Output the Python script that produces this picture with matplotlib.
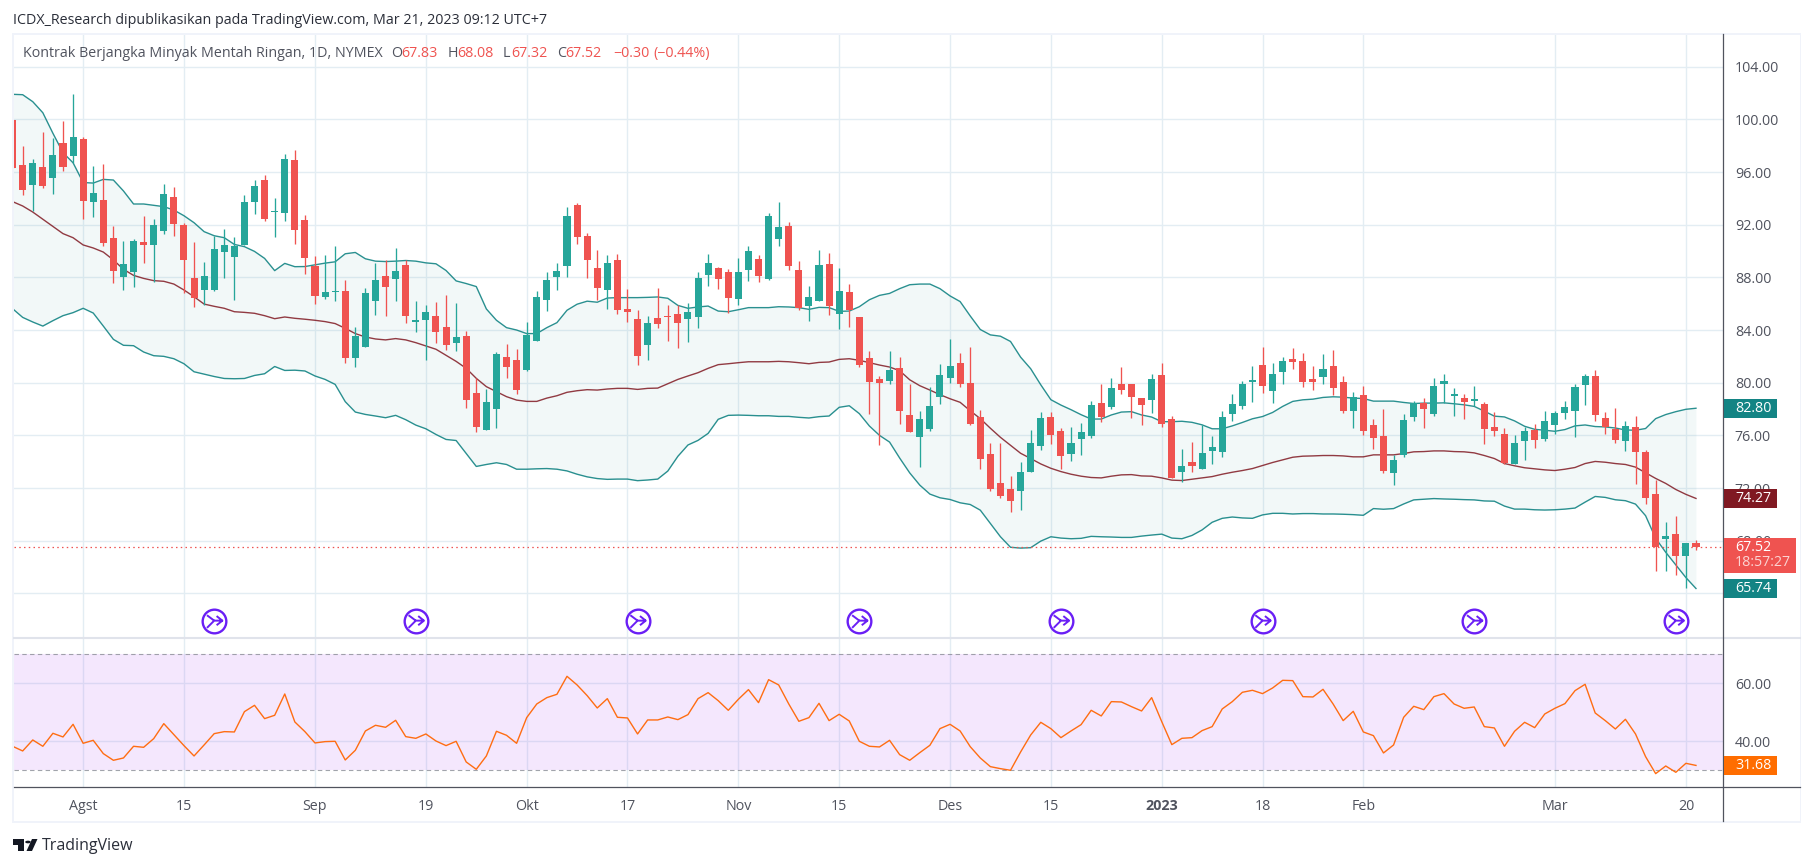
import matplotlib
matplotlib.use('Agg')
import matplotlib.pyplot as plt
from matplotlib.lines import Line2D
from matplotlib.patches import Rectangle, Polygon, Circle
from matplotlib.path import Path

plt.rcParams['font.family'] = ['Open Sans', 'DejaVu Sans']

# daily candles
opens = [99.95, 96.53, 95.01, 96.38, 95.54, 98.2, 97.22, 98.5, 93.72, 93.87,
         90.99, 88.03, 88.4, 90.68, 90.46, 91.52, 94.1, 91.97, 87.95, 87.04,
         87.04, 89.92, 89.54, 90.46, 93.72, 95.39, 92.95, 92.89, 96.91, 92.37,
         88.88, 86.52, 86.85, 86.97, 81.88, 82.71, 86.21, 88.11, 87.89, 88.95,
         84.62, 84.77, 85.07, 84.24, 83.02, 83.55, 79.21, 76.4, 78.0, 81.95,
         81.72, 80.96, 83.17, 86.29, 88.04, 88.88, 93.52, 91.16, 88.72, 87.01,
         89.29, 85.57, 84.81, 82.84, 84.89, 85.04, 85.19, 84.81, 84.96, 88.15,
         88.68, 88.38, 86.33, 88.53, 89.37, 87.85, 90.89, 91.87, 88.53, 85.8,
         86.18, 88.99, 85.19, 86.86, 84.96, 81.85, 80.25, 80.1, 81.09, 77.57,
         75.9, 76.51, 78.93, 80.37, 81.51, 80.0, 77.42, 74.62, 72.42, 71.89,
         71.74, 73.25, 75.22, 77.42, 76.36, 74.62, 75.75, 75.98, 78.48, 78.18,
         79.92, 79.92, 78.86, 78.71, 80.6, 77.27, 73.25, 74.01, 73.45, 74.82,
         74.75, 77.64, 78.25, 80.07, 81.36, 79.39, 80.83, 81.82, 81.67, 80.3,
         80.45, 81.29, 80.07, 77.87, 79.08, 76.8, 75.96, 73.15, 74.52, 77.41,
         78.47, 77.64, 79.92, 79.0, 78.85, 78.63, 78.4, 76.65, 76.09, 73.81,
         75.56, 76.39, 75.71, 76.77, 77.68, 77.83, 79.8, 80.48, 77.3, 76.46,
         75.56, 76.62, 74.72, 71.54, 68.13, 68.51, 66.84, 67.83]
closes = [96.3, 94.63, 96.68, 94.94, 97.29, 96.38, 98.66, 93.8, 94.4, 90.61,
          88.48, 89.01, 90.76, 90.46, 91.97, 94.33, 92.05, 89.32, 86.43, 88.1,
          90.15, 90.46, 90.38, 93.72, 94.94, 92.43, 93.0, 96.99, 91.59, 89.48,
          86.59, 86.9, 86.9, 81.88, 83.55, 86.82, 87.81, 87.28, 88.5, 85.07,
          84.77, 85.38, 83.85, 82.87, 83.47, 78.68, 76.63, 78.53, 82.18, 81.19,
          79.44, 83.63, 86.52, 87.81, 88.5, 92.68, 91.08, 89.33, 87.2, 89.06,
          85.49, 85.34, 82.0, 84.5, 84.43, 84.96, 84.51, 85.34, 87.92, 89.06,
          87.85, 86.41, 88.38, 89.97, 88.08, 92.63, 91.8, 88.84, 85.65, 86.48,
          88.91, 85.8, 86.94, 85.49, 81.32, 80.03, 79.95, 80.94, 77.87, 76.28,
          77.27, 78.25, 80.6, 81.28, 79.92, 76.89, 74.24, 71.96, 71.43, 70.98,
          73.25, 75.45, 77.34, 76.05, 74.46, 75.45, 76.28, 78.33, 77.42, 79.62,
          79.46, 78.93, 78.33, 80.3, 76.89, 72.8, 73.71, 73.71, 74.67, 75.13,
          77.41, 78.4, 79.92, 80.22, 79.77, 80.68, 81.67, 81.59, 80.07, 80.07,
          81.06, 79.61, 77.87, 78.93, 76.34, 75.81, 73.3, 74.14, 77.18, 78.47,
          78.02, 79.77, 80.15, 79.08, 78.55, 78.78, 76.5, 76.34, 73.89, 75.4,
          76.31, 75.63, 77.07, 77.68, 78.13, 79.65, 80.48, 77.53, 76.62, 75.63,
          76.69, 74.72, 71.24, 67.53, 68.36, 66.84, 67.83, 67.52]
highs = [99.95, 97.97, 96.99, 99.04, 98.58, 99.87, 101.92, 98.66, 96.46, 96.61,
         91.9, 90.76, 90.91, 92.66, 92.43, 95.09, 94.86, 92.1, 90.68, 89.16,
         91.14, 91.67, 91.06, 94.25, 95.39, 95.77, 94.03, 97.37, 97.67, 92.75,
         89.64, 89.71, 90.4, 87.81, 84.24, 87.2, 89.1, 89.33, 90.24, 89.33,
         86.21, 85.91, 86.14, 86.67, 86.06, 83.93, 80.36, 79.52, 82.33, 82.94,
         82.56, 84.62, 86.97, 88.42, 89.1, 93.36, 93.67, 91.39, 90.09, 89.67,
         89.75, 87.09, 85.49, 85.04, 87.16, 85.87, 85.87, 86.03, 88.38, 89.75,
         88.76, 88.61, 89.44, 90.35, 89.67, 92.86, 93.7, 92.18, 89.22, 87.32,
         90.05, 89.82, 88.68, 87.47, 84.96, 82.38, 80.48, 82.38, 81.92, 79.92,
         77.87, 79.69, 81.43, 83.33, 82.27, 82.72, 77.95, 75.45, 75.45, 72.95,
         74.01, 76.43, 77.8, 77.8, 76.59, 76.66, 76.96, 78.63, 79.92, 80.37,
         81.21, 79.92, 78.86, 80.68, 81.51, 77.49, 75.0, 75.52, 76.8, 75.96,
         77.87, 79.16, 80.15, 81.29, 82.73, 81.52, 81.97, 82.66, 82.28, 81.29,
         82.2, 82.5, 80.53, 79.31, 79.77, 77.26, 78.02, 74.52, 77.64, 78.63,
         78.85, 80.38, 80.68, 79.61, 79.16, 79.77, 78.55, 77.79, 76.54, 76.01,
         76.62, 76.84, 77.83, 77.83, 78.59, 79.87, 80.63, 80.93, 77.75, 78.06,
         77.07, 77.45, 74.87, 72.6, 69.42, 69.87, 67.83, 68.08]
lows = [96.3, 94.25, 93.04, 94.78, 94.33, 96.08, 96.66, 92.43, 92.58, 90.4,
        87.57, 87.04, 87.27, 89.09, 87.65, 91.29, 91.14, 86.81, 85.75, 85.9,
        86.96, 87.95, 86.28, 90.46, 92.81, 92.28, 91.06, 92.28, 90.53, 88.27,
        85.98, 86.37, 86.21, 81.5, 81.19, 82.71, 85.15, 85.07, 86.21, 84.54,
        83.85, 81.73, 83.02, 82.49, 82.41, 78.07, 76.25, 76.4, 76.55, 80.36,
        79.14, 80.89, 83.17, 85.45, 87.05, 88.04, 90.55, 87.96, 86.29, 85.57,
        85.19, 84.58, 81.32, 81.7, 84.13, 83.14, 82.6, 83.06, 84.13, 87.32,
        87.09, 85.27, 85.87, 87.7, 87.62, 87.77, 90.35, 88.53, 85.49, 84.66,
        86.18, 85.11, 84.05, 84.2, 81.16, 77.6, 75.24, 79.87, 76.84, 76.28,
        73.63, 76.36, 78.4, 80.0, 79.69, 76.81, 73.48, 71.81, 71.21, 70.15,
        70.3, 73.25, 74.92, 75.37, 73.48, 74.09, 74.54, 75.83, 77.04, 78.03,
        79.16, 77.34, 76.81, 77.72, 76.66, 72.8, 72.49, 73.25, 73.45, 73.84,
        74.37, 77.11, 78.02, 78.55, 79.23, 78.47, 79.92, 81.06, 79.69, 79.46,
        79.92, 79.08, 77.71, 76.57, 76.04, 74.98, 73.15, 72.24, 74.37, 77.11,
        76.57, 77.49, 78.47, 77.49, 77.26, 78.25, 75.36, 75.96, 73.81, 73.81,
        74.12, 75.03, 75.56, 76.09, 77.22, 75.86, 78.28, 77.07, 76.09, 75.4,
        74.8, 72.3, 70.78, 65.71, 65.71, 65.4, 64.42, 67.32]

# bollinger bands
bb_upper = [101.9, 101.87, 101.34, 100.5, 98.94, 97.47, 96.7, 95.2, 95.16, 95.44,
            95.39, 94.56, 93.57, 93.57, 93.47, 93.37, 93.11, 92.68, 92.15, 91.47,
            91.16, 91.01, 90.5, 90.33, 89.97, 89.44, 88.51, 89.06, 88.81, 88.82,
            88.95, 89.08, 89.18, 89.79, 89.89, 89.41, 89.23, 89.2, 89.23, 89.28,
            89.23, 89.1, 89.03, 88.52, 87.73, 87.53, 87.3, 85.6, 84.74, 84.18,
            84.0, 83.73, 83.73, 84.18, 84.56, 85.5, 85.96, 86.19, 86.11, 86.43,
            86.46, 86.46, 86.46, 86.48, 86.51, 86.41, 85.87, 85.65, 85.75, 85.82,
            85.44, 85.39, 85.54, 85.7, 85.7, 85.7, 85.77, 85.75, 85.7, 85.57,
            85.72, 85.7, 85.42, 85.44, 85.77, 86.3, 86.63, 86.78, 87.14, 87.44,
            87.49, 87.49, 87.14, 86.59, 86.16, 85.07, 84.04, 83.63, 83.53, 83.13,
            81.94, 81.06, 79.84, 78.71, 78.3, 77.95, 77.57, 77.24, 77.24, 77.55,
            77.77, 77.8, 77.55, 77.39, 77.04, 77.04, 77.07, 76.99, 76.8, 76.5,
            76.5, 76.72, 76.98, 77.26, 77.43, 77.74, 78.2, 78.58, 78.7, 78.75,
            78.88, 78.93, 78.9, 78.83, 78.8, 78.6, 78.6, 78.6, 78.5, 78.42,
            78.45, 78.45, 78.47, 78.4, 78.32, 78.2, 77.84, 77.46, 77.4, 77.1,
            76.69, 76.46, 76.39, 76.31, 76.44, 76.72, 76.79, 76.67, 76.64, 76.56,
            76.41, 76.39, 76.52, 77.27, 77.58, 77.8, 77.98, 78.06]
bb_basis = [93.75, 93.42, 92.96, 92.41, 91.85, 91.32, 91.01, 90.46, 90.23, 89.92,
            89.32, 88.61, 88.15, 87.92, 87.75, 87.7, 87.49, 87.04, 86.53, 85.97,
            85.8, 85.65, 85.39, 85.34, 85.27, 85.09, 84.86, 84.99, 84.89, 84.82,
            84.74, 84.64, 84.49, 84.13, 83.73, 83.47, 83.32, 83.25, 83.35, 83.25,
            83.04, 82.79, 82.54, 82.08, 81.62, 81.09, 80.33, 79.7, 79.32, 78.94,
            78.68, 78.58, 78.58, 78.83, 79.01, 79.27, 79.39, 79.47, 79.44, 79.52,
            79.57, 79.57, 79.49, 79.57, 79.59, 79.92, 80.25, 80.51, 80.76, 81.09,
            81.37, 81.44, 81.52, 81.59, 81.59, 81.59, 81.62, 81.59, 81.52, 81.44,
            81.54, 81.57, 81.77, 81.82, 81.7, 81.52, 81.34, 81.19, 80.91, 80.22,
            79.77, 79.44, 79.09, 78.78, 78.51, 77.87, 77.27, 76.54, 75.85, 75.25,
            74.64, 74.24, 73.83, 73.5, 73.25, 73.05, 72.9, 72.8, 72.77, 72.9,
            73.0, 73.02, 72.92, 72.9, 72.77, 72.6, 72.57, 72.67, 72.77, 72.87,
            73.05, 73.2, 73.33, 73.48, 73.71, 73.94, 74.14, 74.34, 74.42, 74.44,
            74.47, 74.47, 74.44, 74.37, 74.37, 74.52, 74.52, 74.52, 74.62, 74.75,
            74.77, 74.82, 74.82, 74.77, 74.75, 74.67, 74.47, 74.24, 73.86, 73.69,
            73.54, 73.46, 73.38, 73.33, 73.43, 73.56, 73.86, 74.02, 73.96, 73.86,
            73.79, 73.59, 73.16, 72.73, 72.35, 71.89, 71.52, 71.21]
bb_lower = [85.62, 84.96, 84.61, 84.3, 84.71, 85.09, 85.32, 85.65, 85.29, 84.3,
            83.29, 82.84, 82.81, 82.33, 82.05, 82.0, 81.82, 81.44, 80.83, 80.65,
            80.47, 80.32, 80.3, 80.32, 80.55, 80.68, 81.23, 80.93, 80.95, 80.89,
            80.51, 80.25, 79.87, 78.56, 77.77, 77.59, 77.47, 77.34, 77.52, 77.19,
            76.78, 76.5, 76.07, 75.69, 75.61, 74.63, 73.64, 73.79, 73.92, 73.79,
            73.43, 73.43, 73.46, 73.48, 73.43, 73.3, 73.05, 72.85, 72.72, 72.66,
            72.68, 72.68, 72.56, 72.61, 72.68, 73.29, 74.41, 75.27, 75.62, 76.15,
            77.22, 77.52, 77.54, 77.52, 77.49, 77.49, 77.44, 77.44, 77.37, 77.32,
            77.42, 77.47, 78.13, 78.25, 77.65, 76.71, 76.0, 75.49, 74.28, 73.15,
            72.22, 71.54, 71.26, 71.13, 70.88, 70.75, 70.32, 69.31, 68.3, 67.5,
            67.44, 67.47, 67.97, 68.3, 68.2, 68.15, 68.18, 68.33, 68.3, 68.28,
            68.25, 68.25, 68.35, 68.43, 68.5, 68.2, 68.15, 68.4, 68.82, 69.4,
            69.7, 69.8, 69.73, 69.7, 69.96, 70.08, 70.08, 70.03, 70.06, 70.06,
            70.03, 70.03, 70.01, 69.98, 69.93, 70.44, 70.39, 70.44, 70.79, 71.1,
            71.15, 71.2, 71.17, 71.15, 71.12, 71.1, 71.02, 71.0, 70.63, 70.4,
            70.4, 70.35, 70.33, 70.35, 70.4, 70.48, 70.93, 71.36, 71.29, 71.11,
            71.04, 70.78, 69.9, 68.18, 67.12, 66.16, 65.2, 64.37]

rsi = [38.28, 36.67, 40.46, 38.28, 42.76, 41.5, 45.86, 39.31, 40.34, 35.75,
       33.45, 34.25, 38.28, 37.93, 40.92, 46.09, 42.3, 38.51, 34.94, 38.74,
       42.64, 43.33, 43.22, 50.23, 52.41, 47.82, 48.97, 56.32, 46.67, 43.33,
       39.43, 39.89, 40.0, 33.56, 36.9, 43.56, 45.52, 44.83, 47.24, 41.61,
       41.03, 42.53, 40.11, 38.51, 40.0, 32.87, 30.34, 34.94, 43.45, 42.07,
       39.31, 48.16, 52.87, 55.06, 56.21, 62.41, 59.43, 55.75, 51.49, 54.71,
       48.28, 48.05, 42.53, 47.36, 47.36, 48.39, 47.47, 49.2, 54.71, 56.78,
       54.02, 50.69, 54.48, 57.82, 53.33, 61.26, 59.43, 52.87, 46.9, 48.16,
       53.1, 47.13, 49.31, 47.01, 40.0, 38.28, 38.05, 40.34, 35.4, 33.45,
       36.09, 38.62, 44.37, 45.86, 43.56, 38.16, 34.25, 31.26, 30.57, 30.0,
       36.32, 42.18, 46.55, 44.37, 41.26, 43.56, 45.75, 50.69, 48.74, 53.68,
       53.56, 51.95, 50.46, 55.06, 46.78, 38.85, 41.03, 41.26, 43.68, 45.06,
       51.15, 53.68, 56.9, 57.59, 56.44, 58.39, 61.03, 60.92, 55.4, 55.29,
       57.93, 52.87, 47.13, 50.34, 43.22, 41.95, 35.98, 38.74, 48.28, 52.07,
       50.92, 55.4, 56.44, 52.87, 51.38, 51.84, 45.06, 44.6, 38.28, 43.45,
       46.55, 44.71, 49.43, 51.38, 52.99, 57.47, 59.66, 49.77, 47.13, 44.25,
       47.59, 42.53, 34.71, 28.85, 31.49, 29.31, 32.41, 31.68]

assert len(opens) == len(closes) == len(highs) == len(lows) == 168
assert len(bb_upper) == len(bb_basis) == len(bb_lower) == len(rsi) == 168

# bar index of each date label
date_ticks = [7, 17, 30, 41, 51, 61, 72, 82, 93, 103, 114, 124, 134, 153, 166]
date_labels = ['Agst', '15', 'Sep', '19', 'Okt', '17', 'Nov', '15', 'Des', '15',
               '2023', '18', 'Feb', 'Mar', '20']
price_ticks = [64, 68, 72, 76, 80, 84, 88, 92, 96, 100, 104]
rsi_ticks = [40, 60]
event_bars = [20, 40, 62, 84, 104, 124, 145, 165]

W, H = 1813, 866
UP, DOWN = '#26a69a', '#ef5350'
BAND, BASIS = '#138484', '#801922'
GRID = '#e3edf3'
AXIS_TXT = '#50535e'

fig = plt.figure(figsize=(W / 100, H / 100), dpi=100, facecolor='white')


def px_axes(x0, y0, x1, y1):
    return fig.add_axes([x0 / W, 1 - y1 / H, (x1 - x0) / W, (y1 - y0) / H])


def px_rect(x0, y0, x1, y1, color, zorder=5):
    fig.add_artist(Rectangle((x0 / W, 1 - y1 / H), (x1 - x0) / W, (y1 - y0) / H,
                             transform=fig.transFigure, facecolor=color, edgecolor='none', zorder=zorder))


def px_text(x, y, s, **kw):
    kw.setdefault('va', 'center')
    kw.setdefault('zorder', 6)
    fig.text(x / W, 1 - y / H, s, **kw)


def px_line(x0, y0, x1, y1, color, lw, zorder=4):
    fig.add_artist(Line2D([x0 / W, x1 / W], [1 - y0 / H, 1 - y1 / H], color=color, lw=lw, zorder=zorder,
                          transform=fig.transFigure))


# pixel mapping: bar i sits at 12.6 + 10.08 * i
xlim = (0.12, 169.68)
ax = px_axes(13.8, 34, 1723, 637.5)
ax2 = px_axes(13.8, 638.5, 1723, 787)
ax.set_xlim(xlim)
ax2.set_xlim(xlim)
ax.set_ylim(60.65, 106.48)
ax2.set_ylim(24.24, 75.45)

xs = range(len(closes))

for a in (ax, ax2):
    a.grid(True, color=GRID, lw=1.0, zorder=0)
    a.set_axisbelow(True)
    for s in a.spines.values():
        s.set_visible(False)
    a.set_xticks(date_ticks)
    a.yaxis.tick_right()
    a.tick_params(length=0, labelsize=10.3, labelcolor=AXIS_TXT)

ax.set_yticks(price_ticks)
# 64.00 sits fully behind the 65.74 tag in the original
ax.set_yticklabels(['' if p == 64 else '%.2f' % p for p in price_ticks])
ax.tick_params(axis='y', pad=8.5)
ax.tick_params(axis='x', labelbottom=False)

# bollinger
ax.fill_between(xs, bb_upper, bb_lower, color=BAND, alpha=0.05, lw=0, zorder=1)
ax.plot(xs, bb_upper, color=BAND, lw=1.0, alpha=0.9, zorder=2)
ax.plot(xs, bb_lower, color=BAND, lw=1.0, alpha=0.9, zorder=2)
ax.plot(xs, bb_basis, color=BASIS, lw=1.0, alpha=0.85, zorder=2)

# last price
ax.axhline(closes[-1], color=DOWN, lw=0.9, ls=(0, (1.2, 2.6)), zorder=2)

# candles
colors = [UP if c >= o else DOWN for o, c in zip(opens, closes)]
ax.vlines(xs, lows, highs, colors=colors, lw=0.95, zorder=3)
heights = [max(abs(c - o), 0.12) for o, c in zip(opens, closes)]
bottoms = [min(o, c) for o, c in zip(opens, closes)]
ax.bar(xs, heights, bottom=bottoms, width=0.7, color=colors, lw=0, zorder=3)

# split markers: two strokes merging into an arrow
icon = Path([(-0.6, 0.45), (0, 0), (-0.6, -0.6), (0, 0), (0.68, 0), (0.2, 0.38), (0.68, 0), (0.2, -0.38)],
            [Path.MOVETO, Path.LINETO, Path.MOVETO, Path.LINETO, Path.LINETO, Path.MOVETO, Path.LINETO, Path.LINETO])
event_y = 61.93
ax.scatter(event_bars, [event_y] * len(event_bars), s=290, facecolor='white', edgecolor='#6a1ff5', lw=1.7, zorder=4)
ax.scatter(event_bars, [event_y] * len(event_bars), s=139, marker=icon,
           facecolor='none', edgecolor='#6a1ff5', lw=1.4, zorder=5)

# rsi pane
ax2.axhspan(30, 70, color='#ab47f5', alpha=0.13, lw=0, zorder=1)
ax2.axhline(70, color='#8a8d96', lw=0.8, ls=(0, (4, 3)), alpha=0.8, zorder=2)
ax2.axhline(30, color='#8a8d96', lw=0.8, ls=(0, (4, 3)), alpha=0.8, zorder=2)
ax2.plot(xs, rsi, color='#ff6d12', lw=1.0, zorder=3)
ax2.set_yticks(rsi_ticks)
ax2.set_yticklabels(['%.2f' % p for p in rsi_ticks])
ax2.tick_params(axis='y', pad=8.5)
ax2.set_xticklabels(date_labels)
ax2.tick_params(axis='x', pad=8.5)
for t in ax2.get_xticklabels():
    if t.get_text() == '2023':
        t.set_fontweight('bold')

# frame and separators
px_rect(12, 32.5, 1801, 34.5, '#f0f3fa', zorder=3)
px_rect(12, 820.5, 1801, 823, '#f0f3fa', zorder=3)
px_rect(12, 32.5, 14, 823, '#f0f3fa', zorder=3)
px_rect(1799.5, 32.5, 1801, 823, '#f0f3fa', zorder=3)
px_line(13.8, 638, 1800, 638, '#e0e3eb', 1.5)
px_line(1723, 34, 1723, 821, '#50535e', 0.9)
px_line(13.8, 787, 1800, 787, '#50535e', 0.9)

# axis tags
px_rect(1723.5, 399, 1777, 418, BAND)
px_text(1735, 408.5, '82.80', color='white', fontsize=10.3)
px_rect(1723.5, 489, 1777, 508, BASIS)
px_text(1735, 498.5, '74.27', color='white', fontsize=10.3)
px_rect(1723.5, 538, 1796, 573, DOWN)
px_text(1735, 547.5, '67.52', color='white', fontsize=10.3)
px_text(1735, 563, '18:57:27', color='#fbd3d2', fontsize=10.3)
px_rect(1723.5, 579, 1777, 598, BAND)
px_text(1735, 588.5, '65.74', color='white', fontsize=10.3)
px_rect(1723.5, 756, 1777, 775, '#ff6d00')
px_text(1735, 765.5, '31.68', color='white', fontsize=10.3)

# titles
px_text(13, 20, 'ICDX_Research dipublikasikan pada TradingView.com, Mar 21, 2023 09:12 UTC+7',
        color='#2a2e39', fontsize=10.3)
px_text(23, 53.5, 'Kontrak Berjangka Minyak Mentah Ringan, 1D, NYMEX', color='#50535e', fontsize=10.3)
for x, s, c in [(391, 'O', '#50535e'), (401, '67.83', DOWN), (447.5, 'H', '#50535e'), (457, '68.08', DOWN),
                (503, 'L', '#50535e'), (511, '67.32', DOWN), (557, 'C', '#50535e'), (565.5, '67.52', DOWN),
                (613, '\u22120.30', DOWN), (653, '(\u22120.44%)', DOWN)]:
    px_text(x, 53.5, s, color=c, fontsize=10.3)

# tradingview logo
logo = '#131722'
fig.add_artist(Polygon([(13 / W, 1 - 839 / H), (24 / W, 1 - 839 / H), (24 / W, 1 - 851 / H), (18 / W, 1 - 851 / H),
                        (18 / W, 1 - 844.5 / H), (13 / W, 1 - 844.5 / H)], transform=fig.transFigure,
                       facecolor=logo, edgecolor='none'))
fig.add_artist(Polygon([(32 / W, 1 - 839 / H), (37.5 / W, 1 - 839 / H), (32 / W, 1 - 851 / H), (26.5 / W, 1 - 851 / H)],
                       transform=fig.transFigure, facecolor=logo, edgecolor='none'))
fig.add_artist(Circle((28 / W, 1 - 842 / H), 2.8 / W, transform=fig.transFigure, facecolor=logo, edgecolor='none'))
px_text(42, 846, 'TradingView', color='#2a2e39', fontsize=11.5)

fig.savefig('out.png', dpi=100)
